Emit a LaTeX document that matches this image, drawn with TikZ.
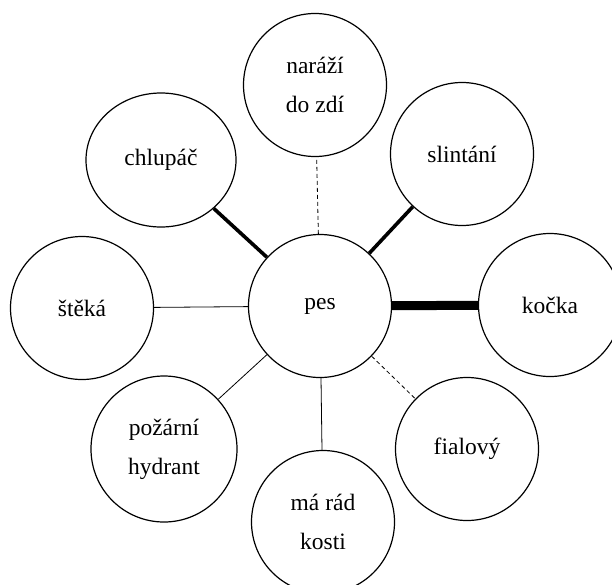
\documentclass[tikz,border=0pt]{standalone}
\usepackage{fontspec}
\setmainfont{Liberation Serif}
\usetikzlibrary{positioning, shapes.geometric}

\begin{document}
\begin{tikzpicture}[
        x=1pt, y=-1pt,
        bubble/.style={circle, draw, line width=1.2pt, minimum size=143pt, inner sep=0pt,
            align=center, font=\fontsize{23.5}{39}\selectfont},
        oval/.style={bubble, ellipse, minimum width=150pt, minimum height=134pt},
        link/.style={line width=0.8pt},
        weak/.style={line width=0.8pt, dashed, dash pattern=on 4pt off 3pt},
        strong/.style={line width=3.6pt},
        strongest/.style={line width=9pt},
    ]
        \useasboundingbox (0,0) rectangle (612,584);

        % Draw the centre node
        \node[bubble] (pes) at (320,306) {pes};

        % Draw the surrounding nodes
        \node[bubble] (naraz) at (315,85) {naráží\\do zdí};
        \node[oval] (chlupac) at (161,160) {chlupáč};
        \node[bubble] (slint) at (462,154) {slintání};
        \node[bubble] (steka) at (82,308) {štěká};
        \node[bubble] (kocka) at (550,305) {kočka};
        \node[bubble, minimum size=146pt] (pozar) at (164,449) {požární\\hydrant};
        \node[bubble] (kosti) at (323,522) {má rád\\kosti};
        \node[bubble] (fial) at (467,449) {fialový};

        % Connect the centre with every surrounding node
        \path (pes) edge[weak] (naraz);
        \foreach \dest in {chlupac, slint}
            \path (pes) edge[strong] (\dest);
        \path (pes) edge[strongest] (kocka);
        \foreach \dest in {steka, pozar, kosti}
            \path (pes) edge[link] (\dest);
        \path (pes) edge[weak] (fial);
    \end{tikzpicture}
\end{document}
